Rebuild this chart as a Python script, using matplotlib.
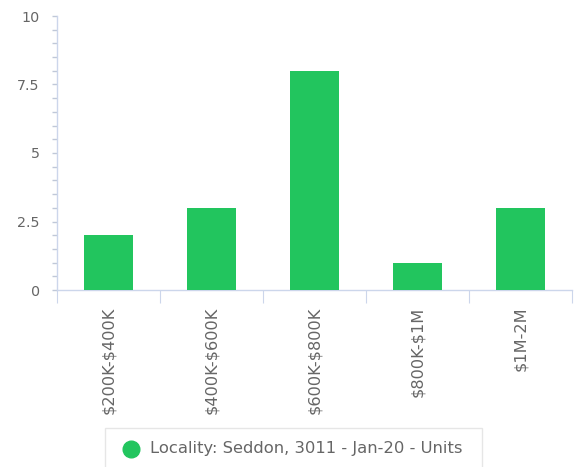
import matplotlib
matplotlib.use("Agg")
import matplotlib.pyplot as plt
from matplotlib.lines import Line2D
from matplotlib.patches import Rectangle
import numpy as np

plt.rcParams["text.parse_math"] = False

categories = ["$200K-$400K", "$400K-$600K", "$600K-$800K", "$800K-$1M", "$1M-2M"]
values = [2, 3, 8, 1, 3]
yticks = [0, 2.5, 5, 7.5, 10]
ytick_labels = ["0", "2.5", "5", "7.5", "10"]
series_name = "Locality: Seddon, 3011 - Jan-20 - Units"

green = "#22c55e"
axis_col = "#ccd6eb"
text_col = "#666666"

fig = plt.figure(figsize=(5.76, 4.67), dpi=100)
ax = fig.add_axes([57/576, 1-290/467, (572-57)/576, (290-16)/467])

x = np.arange(len(categories))
ax.bar(x, values, width=0.47, color=green, zorder=3)
ax.set_xlim(-0.5, len(categories)-0.5)
ax.set_ylim(0, 10)

for s in ["top", "right"]:
    ax.spines[s].set_visible(False)
ax.spines["left"].set_color(axis_col)
ax.spines["bottom"].set_color(axis_col)
ax.spines["left"].set_linewidth(1)
ax.spines["bottom"].set_linewidth(1)

ax.set_yticks(yticks)
ax.set_yticklabels(ytick_labels)
ax.set_yticks(np.arange(0, 10.01, 0.5), minor=True)
ax.tick_params(axis="y", which="both", length=3.8, width=1, color="#c0c8d8",
               labelcolor=text_col, labelsize=10.3, pad=8.6)

ax.set_xticks(np.arange(-0.5, len(categories), 1.0))
ax.set_xticklabels([])
ax.set_xticks(x, minor=True)
ax.set_xticklabels(categories, minor=True, rotation=90)
ax.tick_params(axis="x", which="major", length=9.5, color=axis_col)
ax.tick_params(axis="x", which="minor", length=0, labelcolor=text_col, labelsize=11.6, pad=12)
for lbl in ax.get_xticklabels(minor=True):
    lbl.set_verticalalignment("top")

# legend
fig.patches.append(Rectangle((105/576, -0.01), (482-105)/576, (467-428)/467 + 0.01,
                             transform=fig.transFigure, facecolor="white",
                             edgecolor="#e6e6e6", linewidth=1))
fig.add_artist(Line2D([131/576], [1-449/467], marker="o", markersize=12,
                      color=green, transform=fig.transFigure, linestyle="none"))
fig.text(150/576, 1-449/467, series_name, color=text_col, fontsize=11.8,
         va="center", ha="left")

fig.savefig("out.png", dpi=100)
